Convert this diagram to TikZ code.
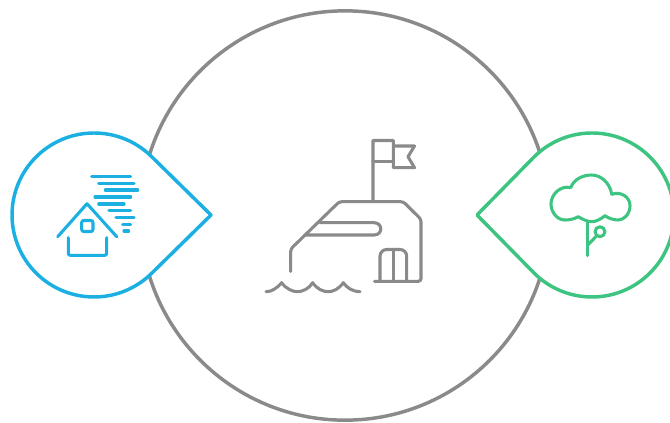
\documentclass[tikz,border=0pt]{standalone}
\usepackage{tikz}
\definecolor{ringgrey}{RGB}{138,138,138}
\definecolor{stormblue}{RGB}{28,176,226}
\definecolor{treegreen}{RGB}{60,196,128}
\begin{document}
\begin{tikzpicture}[
    x=0.75pt, y=-0.75pt,
    ring/.style={line width=2.6pt, fill=white, line join=round},
    icon/.style={line width=2.3pt, line cap=round, line join=round},
    greyicon/.style={icon, ringgrey},
    blueicon/.style={icon, stormblue},
    greenicon/.style={icon, treegreen},
]
\useasboundingbox (0,0) rectangle (670,422);

% main circle
\draw[ring, draw=ringgrey] (345,215.5) circle[radius=153.5pt];

% side drops
\draw[ring, draw=stormblue] (211,215) -- (152,157) arc[start angle=45, end angle=315, radius=61.5pt] -- cycle;
\draw[ring, draw=treegreen] (477,215) -- (534,157) arc[start angle=135, end angle=-135, radius=61.5pt] -- cycle;

% flag
\draw[greyicon] (373,201.5) -- (373,140.5) -- (393.3,140.5) -- (393.3,167.7) -- (414.5,167.7) -- (408,156.7) -- (414.5,146) -- (393.3,146);
\draw[greyicon] (373,161.5) -- (393.3,161.5);

% building
\draw[greyicon, rounded corners=2pt] (290.7,271.5) -- (290.7,249) -- (339.3,201.7) -- (403.3,201.7) -- (421,219.3) -- (421,281.3) -- (374.5,281.3);
\draw[greyicon] (320,222.7) -- (374,222.7) .. controls (383,222.7) and (383,235) .. (374,235) -- (305,235);
\draw[greyicon, rounded corners=5pt] (380,281) -- (380,249.5) -- (406.7,249.5) -- (406.7,281);
\draw[greyicon] (393.3,249.5) -- (393.3,281);

% waves
\draw[greyicon] (266,291.7) .. controls (272,291.7) and (277,288) .. (281.7,282.7)
    .. controls (286,289) and (293,291.7) .. (297.3,291.7)
    .. controls (302,291.7) and (309,289) .. (312.7,282.7)
    .. controls (317,289) and (323,291.7) .. (328.3,291.7)
    .. controls (333,291.7) and (339,289) .. (343.3,282.7)
    .. controls (347,288) and (353,291.7) .. (360,291.7);

% wind
\foreach \xa/\xb/\yy in {91.7/130.7/176.3, 98.7/134/183.3, 105.3/137.7/190, 95/130.7/197, 98.7/124/204, 109/130.7/210.7, 116/134/217.7, 122.7/130.7/224.3, 124/128.7/231}
    \draw[blueicon] (\xa,\yy) -- (\xb,\yy);

% house
\draw[blueicon] (57.7,236.7) -- (87,203.7) -- (116.7,236.7);
\draw[blueicon, rounded corners=1.5pt] (68.3,237.7) -- (68.3,255.3) -- (106.7,255.3) -- (106.7,237.7);
\draw[blueicon, rounded corners=1.5pt] (81.7,220.5) rectangle (93,231.5);

% tree
\draw[greenicon] (570.7,187.7) .. controls (574,179) and (583,175) .. (591.7,175)
    .. controls (601,175) and (610,183) .. (611.7,194.3)
    .. controls (621,191) and (630,197) .. (630,205.7)
    .. controls (630,214) and (624,220) .. (618.3,220)
    .. controls (613,220) and (608,218) .. (605,215.7)
    .. controls (601,219) and (596,221.7) .. (591.7,221.7)
    .. controls (587,221.7) and (582,219) .. (578.3,216.7)
    .. controls (574,219) and (570,220) .. (565,220)
    .. controls (557,220) and (551,212) .. (551,204)
    .. controls (551,194) and (561,185) .. (570.7,187.7);
\draw[greenicon] (587.7,222) -- (587.7,255.7);
\draw[greenicon] (587.7,245) -- (596.5,236);
\draw[greenicon] (600,231.7) circle[radius=3.7pt];
\end{tikzpicture}
\end{document}
